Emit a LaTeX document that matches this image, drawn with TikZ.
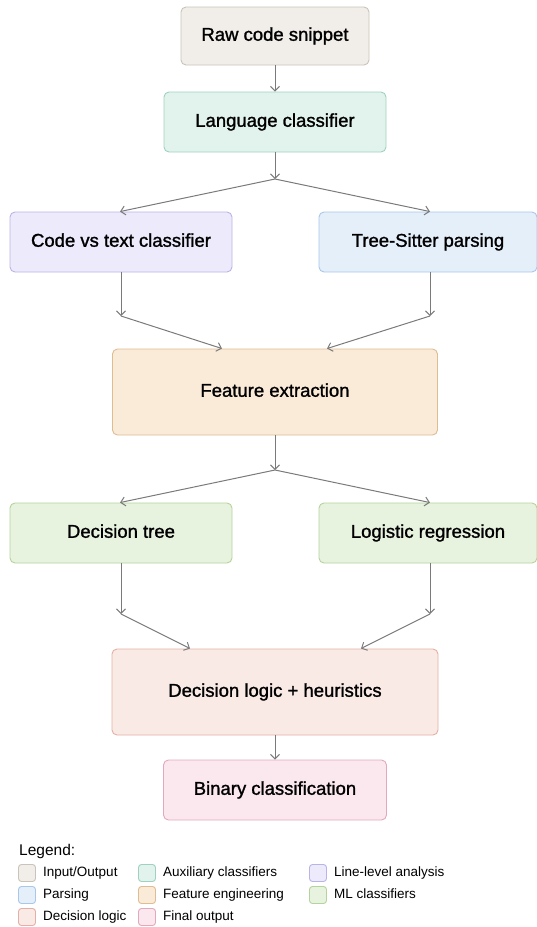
\documentclass[tikz,border=0pt]{standalone}
\usepackage{xcolor}
\usepackage{fontspec}
\setmainfont{Liberation Sans}
\newfontfamily\boxfont[RawFeature={embolden=1.3}]{Liberation Sans}
\usepackage{tikz}
\usetikzlibrary{arrows.meta}

\definecolor{ioFill}{HTML}{F1EEE9}
\definecolor{ioLine}{HTML}{C9C3BA}
\definecolor{auxFill}{HTML}{E1F3EC}
\definecolor{auxLine}{HTML}{9ED2BE}
\definecolor{lineFill}{HTML}{ECEAFB}
\definecolor{lineLine}{HTML}{B9B4E8}
\definecolor{parseFill}{HTML}{E5EFFA}
\definecolor{parseLine}{HTML}{A8C7EA}
\definecolor{featFill}{HTML}{FAEBD8}
\definecolor{featLine}{HTML}{DFBC92}
\definecolor{mlFill}{HTML}{E8F3DF}
\definecolor{mlLine}{HTML}{B5D39D}
\definecolor{logicFill}{HTML}{FAEAE5}
\definecolor{logicLine}{HTML}{E2B0A4}
\definecolor{outFill}{HTML}{FBE7EE}
\definecolor{outLine}{HTML}{E2A9BE}
\definecolor{edgeGray}{HTML}{7A7A7A}

\tikzset{
    box/.style={draw, rounded corners=5pt, line width=0.9pt, align=center,
        font=\boxfont\fontsize{18.5}{22}\selectfont, inner sep=0pt,
        text height=13.5pt, text depth=4pt},
    swatch/.style={draw, rounded corners=3pt, line width=0.9pt,
        minimum width=17pt, minimum height=17pt, inner sep=0pt},
    legtext/.style={anchor=west, inner sep=0pt, font=\fontsize{13.5}{16}\selectfont,
        text height=10pt, text depth=3pt},
    edge/.style={draw=edgeGray, line width=1pt,
        -{Straight Barb[length=4.5pt,width=9pt]}}
}

\begin{document}
\begin{tikzpicture}[x=1pt, y=-1pt]
    \useasboundingbox (0, 0) rectangle (537, 927);

    \node[box, fill=ioFill, draw=ioLine, minimum width=188pt, minimum height=58pt] at (275, 36) (raw) {Raw code snippet};
    \node[box, fill=auxFill, draw=auxLine, minimum width=222pt, minimum height=60pt] at (275, 122) (lang) {Language classifier};
    \node[box, fill=lineFill, draw=lineLine, minimum width=222pt, minimum height=60pt] at (121, 242) (cvt) {Code vs text classifier};
    \node[box, fill=parseFill, draw=parseLine, minimum width=218pt, minimum height=60pt] at (428, 242) (ts) {Tree-Sitter parsing};
    \node[box, fill=featFill, draw=featLine, minimum width=325pt, minimum height=86pt] at (275, 392) (feat) {Feature extraction};
    \node[box, fill=mlFill, draw=mlLine, minimum width=222pt, minimum height=60pt] at (121, 533) (dt) {Decision tree};
    \node[box, fill=mlFill, draw=mlLine, minimum width=218pt, minimum height=60pt] at (428, 533) (lr) {Logistic regression};
    \node[box, fill=logicFill, draw=logicLine, minimum width=326pt, minimum height=86pt] at (275, 692) (logic) {Decision logic + heuristics};
    \node[box, fill=outFill, draw=outLine, minimum width=223pt, minimum height=60pt] at (275, 790) (bin) {Binary classification};

    \coordinate (j1) at (275, 179);
    \coordinate (j2) at (121, 316);
    \coordinate (j3) at (430, 316);
    \coordinate (j4) at (275, 470);
    \coordinate (j5) at (121, 614);
    \coordinate (j6) at (430, 614);

    \draw[edge] (raw) -- (lang);
    \draw[edge] (lang) -- (j1);
    \draw[edge] (j1) -- ([xshift=-1pt]cvt.north);
    \draw[edge] (j1) -- ([xshift=2pt]ts.north);
    \draw[edge] (cvt) -- (j2);
    \draw[edge] (ts.south -| j3) -- (j3);
    \draw[edge] (j2) -- ([xshift=-53pt]feat.north);
    \draw[edge] (j3) -- ([xshift=52pt]feat.north);
    \draw[edge] (feat) -- (j4);
    \draw[edge] (j4) -- ([xshift=-1pt]dt.north);
    \draw[edge] (j4) -- ([xshift=2pt]lr.north);
    \draw[edge] (dt) -- (j5);
    \draw[edge] (lr.south -| j6) -- (j6);
    \draw[edge] (j5) -- ([xshift=-85pt]logic.north);
    \draw[edge] (j6) -- ([xshift=86pt]logic.north);
    \draw[edge] (logic) -- (bin);

    % legend
    \node[anchor=west, inner sep=0pt, font=\fontsize{15.5}{18}\selectfont] at (19, 851) (leg) {Legend:};
    \node[swatch, fill=ioFill, draw=ioLine] at (27, 873) (s1) {};
    \node[legtext] at (43, 873) (t1) {Input/Output};
    \node[swatch, fill=parseFill, draw=parseLine] at (27, 895) (s2) {};
    \node[legtext] at (43, 895) (t2) {Parsing};
    \node[swatch, fill=logicFill, draw=logicLine] at (27, 917) (s3) {};
    \node[legtext] at (43, 917) (t3) {Decision logic};
    \node[swatch, fill=auxFill, draw=auxLine] at (147, 873) (s4) {};
    \node[legtext] at (163, 873) (t4) {Auxiliary classifiers};
    \node[swatch, fill=featFill, draw=featLine] at (147, 895) (s5) {};
    \node[legtext] at (163, 895) (t5) {Feature engineering};
    \node[swatch, fill=outFill, draw=outLine] at (147, 917) (s6) {};
    \node[legtext] at (163, 917) (t6) {Final output};
    \node[swatch, fill=lineFill, draw=lineLine] at (318, 873) (s7) {};
    \node[legtext] at (334, 873) (t7) {Line-level analysis};
    \node[swatch, fill=mlFill, draw=mlLine] at (318, 895) (s8) {};
    \node[legtext] at (334, 895) (t8) {ML classifiers};
\end{tikzpicture}
\end{document}
